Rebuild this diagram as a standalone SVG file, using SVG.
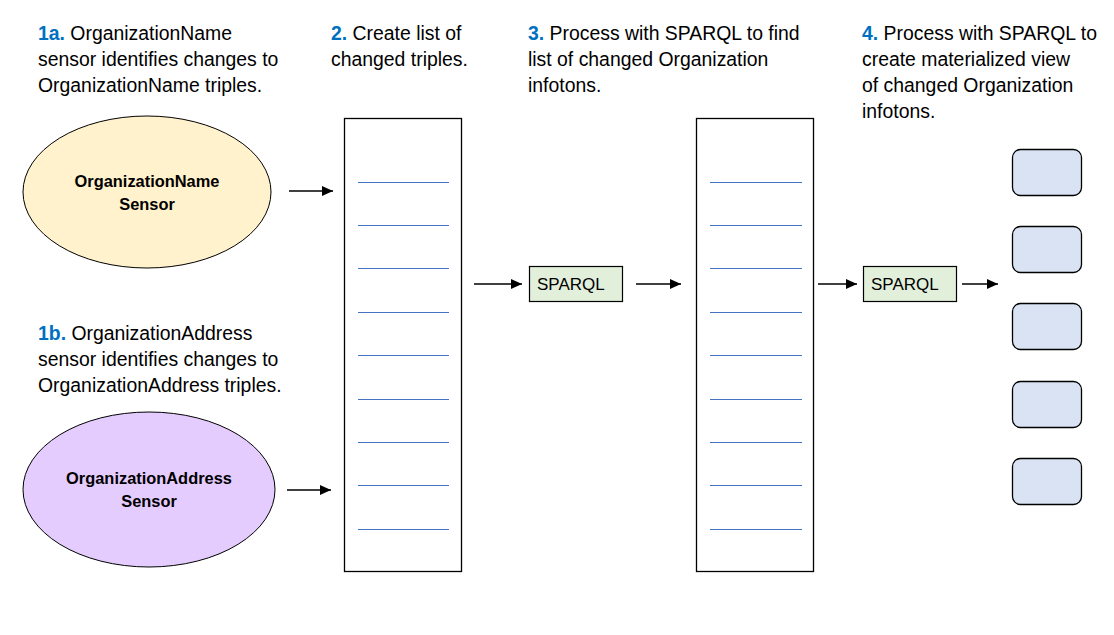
<svg xmlns="http://www.w3.org/2000/svg" width="1114" height="635" viewBox="0 0 1114 635">
<defs>
<marker id="ah" markerWidth="12" markerHeight="10" refX="11" refY="5" orient="auto" markerUnits="userSpaceOnUse">
<path d="M0,0 L11,5 L0,10 Z" fill="#000"/>
</marker>
<style>
.cap{font-family:"Liberation Sans",Arial,sans-serif;font-size:19.4px;fill:#000}
.num{font-weight:bold;fill:#0070C0}
.lbl{font-family:"Liberation Sans",Arial,sans-serif;font-size:16.4px;font-weight:bold;fill:#000;text-anchor:middle}
.sp{font-family:"Liberation Sans",Arial,sans-serif;font-size:17px;fill:#000}
.conn line{stroke:#000;stroke-width:1.3;marker-end:url(#ah)}
.list{fill:#fff;stroke:#000;stroke-width:1.3}
.row{stroke:#4472C4;stroke-width:1.2}
.sq{fill:#E2EFDA;stroke:#000;stroke-width:1.2}
.out{fill:#DAE3F3;stroke:#000;stroke-width:1.3}
</style>
</defs>
<rect width="1114" height="635" fill="#fff"/>

<g id="caption1a">
<text class="cap" x="38" y="40"><tspan class="num">1a.</tspan> OrganizationName</text>
<text class="cap" x="38" y="66">sensor identifies changes to</text>
<text class="cap" x="38" y="92">OrganizationName triples.</text>
</g>
<g id="caption1b">
<text class="cap" x="38" y="340"><tspan class="num">1b.</tspan> OrganizationAddress</text>
<text class="cap" x="38" y="366">sensor identifies changes to</text>
<text class="cap" x="38" y="392">OrganizationAddress triples.</text>
</g>
<g id="caption2">
<text class="cap" x="331" y="40"><tspan class="num">2.</tspan> Create list of</text>
<text class="cap" x="331" y="66">changed triples.</text>
</g>
<g id="caption3">
<text class="cap" x="528" y="40"><tspan class="num">3.</tspan> Process with SPARQL to find</text>
<text class="cap" x="528" y="66">list of changed Organization</text>
<text class="cap" x="528" y="92">infotons.</text>
</g>
<g id="caption4">
<text class="cap" x="862" y="40"><tspan class="num">4.</tspan> Process with SPARQL to</text>
<text class="cap" x="862" y="66">create materialized view</text>
<text class="cap" x="862" y="92">of changed Organization</text>
<text class="cap" x="862" y="118">infotons.</text>
</g>

<g id="sensorName">
<ellipse cx="147" cy="192" rx="124" ry="76" fill="#FFF2CC" stroke="#000" stroke-width="1"/>
<text class="lbl" x="147" y="187">OrganizationName</text>
<text class="lbl" x="147" y="210">Sensor</text>
</g>
<g id="sensorAddress">
<ellipse cx="149" cy="489.5" rx="126" ry="77.5" fill="#E5CCFF" stroke="#000" stroke-width="1"/>
<text class="lbl" x="149" y="484">OrganizationAddress</text>
<text class="lbl" x="149" y="507">Sensor</text>
</g>

<g id="tripleList">
<rect class="list" x="344.5" y="118.5" width="117" height="453"/>
<line class="row" x1="358" y1="182.5" x2="449" y2="182.5"/>
<line class="row" x1="358" y1="225.5" x2="449" y2="225.5"/>
<line class="row" x1="358" y1="268.5" x2="449" y2="268.5"/>
<line class="row" x1="358" y1="312.5" x2="449" y2="312.5"/>
<line class="row" x1="358" y1="355.5" x2="449" y2="355.5"/>
<line class="row" x1="358" y1="399.5" x2="449" y2="399.5"/>
<line class="row" x1="358" y1="442.5" x2="449" y2="442.5"/>
<line class="row" x1="358" y1="485.5" x2="449" y2="485.5"/>
<line class="row" x1="358" y1="529.5" x2="449" y2="529.5"/>
</g>

<g id="sparql1">
<rect class="sq" x="529.5" y="266.5" width="93" height="35"/>
<text class="sp" x="537" y="290">SPARQL</text>
</g>

<g id="infotonList">
<rect class="list" x="696.5" y="118.5" width="117" height="453"/>
<line class="row" x1="710" y1="182.5" x2="802" y2="182.5"/>
<line class="row" x1="710" y1="225.5" x2="802" y2="225.5"/>
<line class="row" x1="710" y1="268.5" x2="802" y2="268.5"/>
<line class="row" x1="710" y1="312.5" x2="802" y2="312.5"/>
<line class="row" x1="710" y1="355.5" x2="802" y2="355.5"/>
<line class="row" x1="710" y1="399.5" x2="802" y2="399.5"/>
<line class="row" x1="710" y1="442.5" x2="802" y2="442.5"/>
<line class="row" x1="710" y1="485.5" x2="802" y2="485.5"/>
<line class="row" x1="710" y1="529.5" x2="802" y2="529.5"/>
</g>

<g id="sparql2">
<rect class="sq" x="863.5" y="266.5" width="93" height="35"/>
<text class="sp" x="871" y="290">SPARQL</text>
</g>

<g id="views">
<rect class="out" x="1012.5" y="149.5" width="69" height="46" rx="8"/>
<rect class="out" x="1012.5" y="226.5" width="69" height="46" rx="8"/>
<rect class="out" x="1012.5" y="303.5" width="69" height="46" rx="8"/>
<rect class="out" x="1012.5" y="381.5" width="69" height="46" rx="8"/>
<rect class="out" x="1012.5" y="458.5" width="69" height="46" rx="8"/>
</g>

<g id="connectors" class="conn">
<line x1="289" y1="191" x2="333" y2="191"/>
<line x1="287" y1="490" x2="331" y2="490"/>
<line x1="474" y1="284" x2="522" y2="284"/>
<line x1="636" y1="284" x2="681" y2="284"/>
<line x1="818" y1="284" x2="857" y2="284"/>
<line x1="962" y1="284" x2="998" y2="284"/>
</g>
</svg>
